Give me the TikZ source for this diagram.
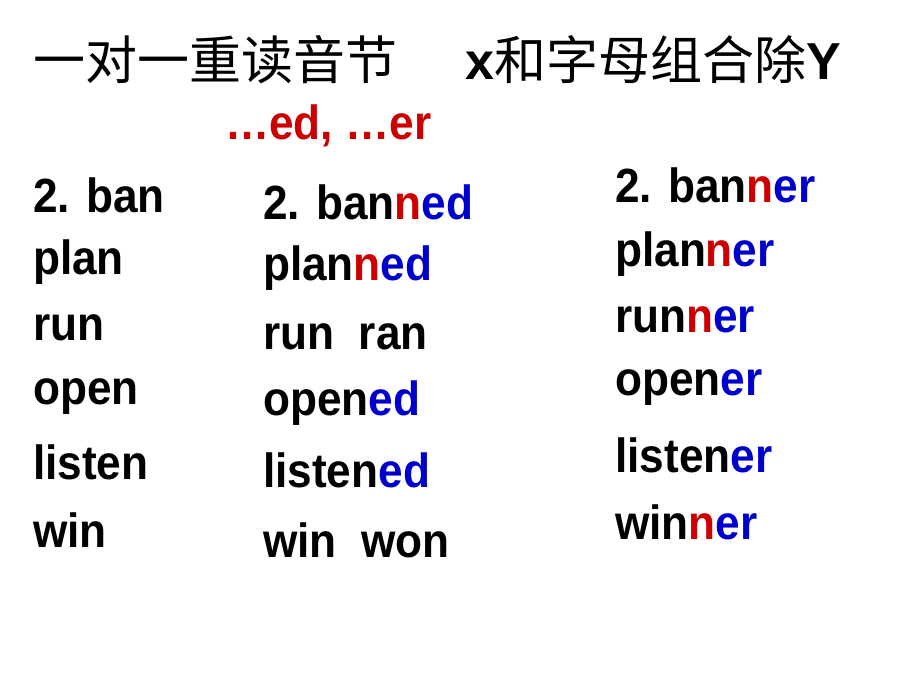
\documentclass[tikz,border=0pt]{standalone}
\usepackage{fontspec}
\setmainfont{Liberation Sans}
\newfontfamily\cjk{Noto Sans CJK SC}
\definecolor{rd}{RGB}{204,0,0}
\definecolor{bl}{RGB}{0,0,204}
\newcommand{\R}[1]{\textcolor{rd}{#1}}
\newcommand{\B}[1]{\textcolor{bl}{#1}}
\begin{document}
\begin{tikzpicture}[x=1pt,y=-1pt,
  w/.style={anchor=west,inner sep=0pt,font=\fontsize{48}{50}\selectfont\bfseries,xscale=0.92}]
\useasboundingbox (0,0) rectangle (920,690);
\fill[white] (0,0) rectangle (920,690);
\node[anchor=west,inner sep=0pt,font=\fontsize{52}{54}\selectfont] (t1) at (33,60) {\cjk 一对一重读音节};
\node[anchor=west,inner sep=0pt,font=\fontsize{52}{54}\selectfont] (t2) at (465,60) {\bfseries x\cjk\mdseries 和字母组合除\rmfamily\bfseries Y};
\node[w,text=rd] (t3) at (225,126) {…ed, …er};
\node[w] (a1) at (33,195) {2. ban};
\node[w] (a2) at (33,262) {plan};
\node[w] (a3) at (33,328) {run};
\node[w] (a4) at (33,397) {open};
\node[w] (a5) at (33,462) {listen};
\node[w] (a6) at (33,530) {win};
\node[w] (b1) at (263,202) {2. ban\R{n}\B{ed}};
\node[w] (b2) at (263,268) {plan\R{n}\B{ed}};
\node[w] (b3) at (263,337) {run\ \ ran};
\node[w] (b4) at (263,403) {open\B{ed}};
\node[w] (b5) at (263,470) {listen\B{ed}};
\node[w] (b6) at (263,540) {win\ \ won};
\node[w] (c1) at (615,185) {2. ban\R{n}\B{er}};
\node[w] (c2) at (615,254) {plan\R{n}\B{er}};
\node[w] (c3) at (615,320) {run\R{n}\B{er}};
\node[w] (c4) at (615,388) {open\B{er}};
\node[w] (c5) at (615,455) {listen\B{er}};
\node[w] (c6) at (615,522) {win\R{n}\B{er}};
\end{tikzpicture}
\end{document}
